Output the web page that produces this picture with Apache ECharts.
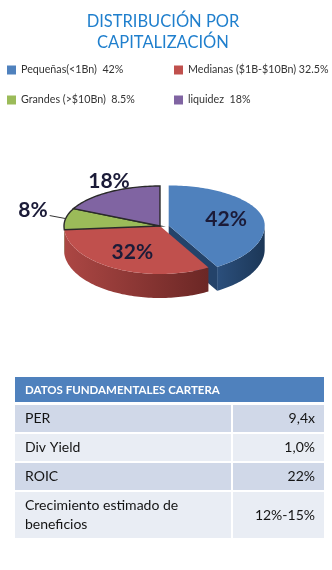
<!DOCTYPE html>
<html><head><meta charset="utf-8">
<script src="https://cdn.jsdelivr.net/npm/echarts@6/dist/echarts.min.js"></script>
<style>html,body{margin:0;padding:0;background:#fff}#c{width:332px;height:570px}</style>
</head><body><div id="c"></div>
<script>
// ---- data ----
const titleLines = ['DISTRIBUCIÓN POR', 'CAPITALIZACIÓN'];
const categories = ['Pequeñas(<1Bn)', 'Medianas ($1B-$10Bn)', 'Grandes (>$10Bn)', 'liquidez'];
const values = [42, 32.5, 8.5, 18];
const legendLabels = ['Pequeñas(<1Bn)  42%', 'Medianas ($1B-$10Bn) 32.5%', 'Grandes (>$10Bn)  8.5%', 'liquidez  18%'];
const tableHeader = 'DATOS FUNDAMENTALES CARTERA';
const tableLabels = ['PER', 'Div Yield', 'ROIC', 'Crecimiento estimado de\nbeneficios'];
const tableValues = ['9,4x', '1,0%', '22%', '12%-15%'];

// ---- styles / layout ----
const TOP = ['#4F81BD', '#C0504D', '#9BBB59', '#8064A2'];
const SIDE = [['#2B4F7C', '#1C3757'], ['#AC4744', '#6B2725'], ['#6F8A3C', '#56702C'], ['#5D4779', '#483660']];
const WALL = ['#24436A', '#7A2C2A', '#5E7833', '#4E3B68'];
const EXPLODE = [9, 0, 0, 0];
const G = {cx: 160, cy: 226, rx: 96, ryT: 40, ryB: 48, depth: 24};
const FONT = 'Lato, "Open Sans", sans-serif';
const RAD = Math.PI / 180;

const total = values.reduce((a, b) => a + b, 0);
const starts = [], ends = [];
let acc = 0;
values.forEach(v => { starts.push(acc / total * 360); acc += v; ends.push(acc / total * 360); });

function pt(th, ox, oy, f) {
  f = f || 1;
  const c = Math.cos(th * RAD), s = Math.sin(th * RAD);
  return [ox + G.rx * f * s, oy - (c > 0 ? G.ryT : G.ryB) * f * c];
}
function arc(a1, a2, ox, oy, dy) {
  const n = Math.max(2, Math.ceil((a2 - a1) / 1.5));
  const out = [];
  for (let k = 0; k <= n; k++) {
    const p = pt(a1 + (a2 - a1) * k / n, ox, oy);
    out.push([p[0], p[1] + (dy || 0)]);
  }
  return out;
}

function renderItem(params, api) {
  const i = params.dataIndex;
  const a1 = starts[i], a2 = ends[i], m = (a1 + a2) / 2;
  const ex = EXPLODE[i];
  const ox = G.cx + ex * Math.sin(m * RAD);
  const oy = G.cy - ex * Math.cos(m * RAD) * 0.25;
  const children = [];
  const D = G.depth;
  // radial wall (visible for exploded slice)
  if (ex > 0 && a2 > 0 && a2 < 180) {
    const p = pt(a2, ox, oy);
    children.push({type: 'polygon', z2: 0, shape: {points: [[ox, oy], p, [p[0], p[1] + D], [ox, oy + D]]},
      style: {fill: WALL[i]}});
  }
  // outer side
  const s1 = Math.max(a1, 90), s2 = Math.min(a2, 270);
  if (s1 < s2) {
    const topArc = arc(s1, s2, ox, oy, 0);
    const botArc = arc(s1, s2, ox, oy, D).reverse();
    const pts = topArc.concat(botArc);
    const xs = pts.map(p => p[0]);
    const xmin = Math.min.apply(null, xs), xmax = Math.max.apply(null, xs);
    children.push({type: 'polygon', z2: 1, shape: {points: pts},
      style: {fill: {type: 'linear', x: xmin, y: 0, x2: xmax, y2: 0, global: true,
        colorStops: [{offset: 0, color: SIDE[i][0]}, {offset: 1, color: SIDE[i][1]}]}}});
  }
  // top face
  const topPts = [[ox, oy]].concat(arc(a1, a2, ox, oy, 0));
  const outlined = (values[i] / total) < 0.25;
  children.push({type: 'polygon', z2: 2, shape: {points: topPts},
    style: {fill: TOP[i], stroke: outlined ? '#2a2a2a' : null, lineWidth: outlined ? 1.4 : 0}});
  // label
  const share = values[i] / total;
  const txt = Math.round(share * 100) + '%';
  const lblStyle = {font: 'bold 21px ' + FONT, fill: '#1B1B38'};
  if (share >= 0.25) {
    const p = pt(m, ox, oy, 0.62);
    children.push({type: 'text', z2: 3, style: Object.assign({text: txt, x: p[0], y: p[1], align: 'center', verticalAlign: 'middle'}, lblStyle)});
  } else if (share < 0.12) {
    const e = pt(m, ox, oy, 1.0);
    const dir = Math.sin(m * RAD) < 0 ? -1 : 1;
    const q = [e[0] + dir * 16, e[1] - 3];
    children.push({type: 'line', z2: 3, shape: {x1: e[0], y1: e[1], x2: q[0], y2: q[1]}, style: {stroke: '#333', lineWidth: 1}});
    children.push({type: 'text', z2: 3, style: Object.assign({text: txt, x: q[0] + dir * 2, y: q[1] - 5,
      align: dir < 0 ? 'right' : 'left', verticalAlign: 'middle'}, lblStyle)});
  } else {
    const e = pt(m, ox, oy, 1.0);
    const up = Math.cos(m * RAD) > 0 ? -1 : 1;
    children.push({type: 'text', z2: 3, style: Object.assign({text: txt, x: e[0], y: e[1] + up * 11,
      align: 'center', verticalAlign: 'middle'}, lblStyle)});
  }
  return {type: 'group', children: children};
}

// ---- graphic: title and table ----
const graphics = [];
titleLines.forEach((t, k) => {
  graphics.push({type: 'text', style: {text: t, x: 163, y: 22 + k * 21, align: 'center', verticalAlign: 'middle',
    font: '16.5px ' + FONT, fill: '#1F7FCD'}});
});
const TX = 15, TW = 309, COLX = 232, TY = 377;
graphics.push({type: 'rect', shape: {x: TX, y: TY, width: TW, height: 25}, style: {fill: '#4F81BD'}});
graphics.push({type: 'text', style: {text: tableHeader, x: 25, y: TY + 13, verticalAlign: 'middle',
  font: 'bold 11.5px ' + FONT, fill: '#ffffff'}});
let ry = TY + 28;
tableLabels.forEach((lab, k) => {
  const lines = lab.split('\n').length;
  const h = 27 + (lines - 1) * 19;
  const fill = k % 2 === 0 ? '#D0D8E8' : '#E9EDF4';
  graphics.push({type: 'rect', shape: {x: TX, y: ry, width: COLX - TX - 1, height: h}, style: {fill: fill}});
  graphics.push({type: 'rect', shape: {x: COLX + 1, y: ry, width: TX + TW - COLX - 1, height: h}, style: {fill: fill}});
  graphics.push({type: 'text', style: {text: lab, x: 25, y: ry + h / 2, verticalAlign: 'middle', lineHeight: 19,
    font: '14px ' + FONT, fill: '#141414'}});
  graphics.push({type: 'text', style: {text: tableValues[k], x: 315, y: ry + h / 2, align: 'right', verticalAlign: 'middle',
    font: '14px ' + FONT, fill: '#141414'}});
  ry += h + 2;
});

const legendCommon = {
  orient: 'vertical', top: 63, itemWidth: 9, itemHeight: 9, itemGap: 16, icon: 'rect', padding: 0,
  selectedMode: false,
  formatter: name => legendLabels[categories.indexOf(name)],
  textStyle: {fontFamily: FONT, fontSize: 10.7, color: '#333333', lineHeight: 14}
};

const chart = echarts.init(document.getElementById('c'), null, {renderer: 'canvas'});
chart.setOption({
  animation: false,
  legend: [
    Object.assign({left: 7, data: [categories[0], categories[2]]}, legendCommon),
    Object.assign({left: 174, data: [categories[1], categories[3]]}, legendCommon)
  ],
  graphic: {elements: graphics},
  series: [
    {type: 'pie', radius: [0, 0], center: [-50, -50], silent: true, label: {show: false}, labelLine: {show: false},
     data: categories.map((c, i) => ({name: c, value: values[i], itemStyle: {color: TOP[i]}}))},
    {type: 'custom', coordinateSystem: 'none', silent: true, renderItem: renderItem,
     data: values.map((v, i) => [i, v])}
  ]
});
</script></body></html>
